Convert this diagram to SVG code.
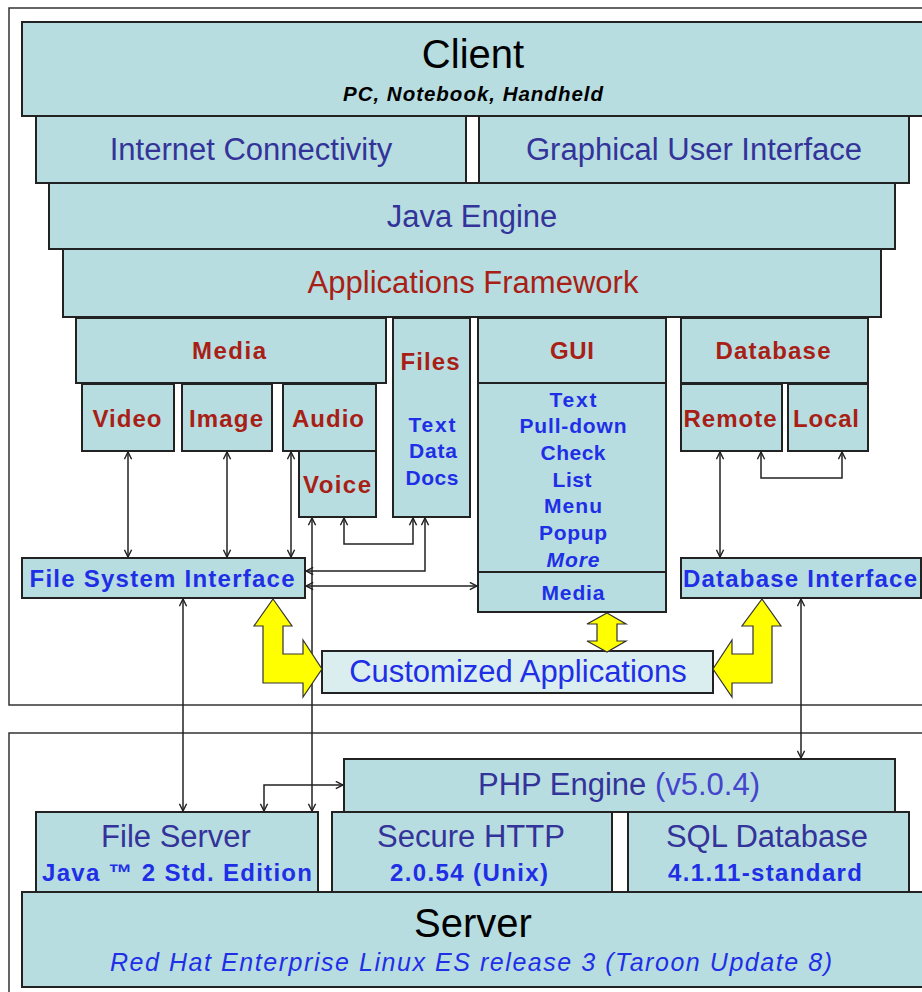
<svg xmlns="http://www.w3.org/2000/svg" width="922" height="992" viewBox="0 0 922 992">
<style>
.frame{fill:#fff;stroke:#333;stroke-width:1.5}
.box{fill:#B7DDE1;stroke:#222;stroke-width:2}
.lbox{fill:#DAEEF0;stroke:#222;stroke-width:2}
text{font-family:"Liberation Sans",Arial,sans-serif;text-anchor:middle}
.big{font-size:40px;fill:#000}
.reg{font-size:31px;fill:#333399}
.regred{font-size:31px;fill:#A82015}
.hd{font-size:24px;font-weight:bold;fill:#A82015}
.bb{font-size:24px;font-weight:bold;fill:#1F2FE6}
.li{font-size:21px;font-weight:bold;fill:#1F2FE6}
.conn{fill:none;stroke:#222;stroke-width:1.5}
.yel{fill:#FFFF00;stroke:#333;stroke-width:1.2;stroke-linejoin:miter}
</style>
<defs>
<marker id="ah" viewBox="0 0 10 10" refX="9" refY="5" markerWidth="9" markerHeight="9" markerUnits="userSpaceOnUse" orient="auto-start-reverse">
<path d="M1,1 L9,5 L1,9" fill="none" stroke="#222" stroke-width="1.6"/>
</marker>
</defs>
<rect width="922" height="992" fill="#fff"/>
<rect class="frame" x="9" y="8" width="930" height="697"/>
<rect class="frame" x="9" y="733" width="930" height="270"/>

<g id="client"><rect class="box" x="22" y="22" width="910" height="94"/>
<text class="big" x="473" y="68">Client</text>
<text x="473" y="101" font-size="20.5" font-weight="bold" font-style="italic" fill="#000" textLength="260">PC, Notebook, Handheld</text></g>
<g id="internet"><rect class="box" x="36" y="116" width="430" height="67"/><text class="reg" x="251" y="160">Internet Connectivity</text></g>
<g id="gui-top"><rect class="box" x="479" y="116" width="430" height="67"/><text class="reg" x="694" y="160">Graphical User Interface</text></g>
<g id="java"><rect class="box" x="49" y="183" width="846" height="66"/><text class="reg" x="472" y="227">Java Engine</text></g>
<g id="apps"><rect class="box" x="63" y="249" width="818" height="68"/><text class="regred" x="473" y="293">Applications Framework</text></g>

<g id="media"><rect class="box" x="76" y="318" width="310" height="65"/><text class="hd" x="229" y="359" textLength="74">Media</text></g>
<g id="video"><rect class="box" x="82" y="384" width="92" height="67"/><text class="hd" x="127" y="427" textLength="69">Video</text></g>
<g id="image"><rect class="box" x="182" y="384" width="90" height="67"/><text class="hd" x="226" y="427" textLength="74">Image</text></g>
<g id="audio"><rect class="box" x="283" y="384" width="93" height="67"/><text class="hd" x="328" y="427" textLength="72">Audio</text></g>
<g id="voice"><rect class="box" x="299" y="451" width="77" height="66"/><text class="hd" x="337" y="493" textLength="68">Voice</text></g>
<g id="files"><rect class="box" x="393" y="318" width="77" height="199"/>
<text class="hd" x="430" y="370" textLength="59">Files</text>
<text class="li" x="432" y="432" textLength="47">Text</text>
<text class="li" x="433" y="458" textLength="48">Data</text>
<text class="li" x="432" y="485" textLength="53">Docs</text></g>
<g id="gui"><rect class="box" x="478" y="318" width="188" height="65"/><text class="hd" x="572" y="359" textLength="44">GUI</text>
<rect class="box" x="478" y="383" width="188" height="189"/>
<text class="li" x="573" y="407" textLength="47">Text</text>
<text class="li" x="573" y="433" textLength="107">Pull-down</text>
<text class="li" x="573" y="460" textLength="65">Check</text>
<text class="li" x="572" y="487" textLength="39">List</text>
<text class="li" x="573" y="513" textLength="58">Menu</text>
<text class="li" x="573" y="540" textLength="68">Popup</text>
<text class="li" x="573" y="567" textLength="53" font-style="italic">More</text></g>
<g id="gui-media"><rect class="box" x="478" y="572" width="188" height="40"/><text class="li" x="573" y="600" textLength="63">Media</text></g>
<g id="database"><rect class="box" x="681" y="318" width="187" height="65"/><text class="hd" x="773" y="359" textLength="115">Database</text></g>
<g id="remote"><rect class="box" x="681" y="384" width="101" height="67"/><text class="hd" x="730" y="427" textLength="93">Remote</text></g>
<g id="local"><rect class="box" x="788" y="384" width="80" height="67"/><text class="hd" x="826" y="427" textLength="66">Local</text></g>
<g id="fsi"><rect class="box" x="22" y="558" width="283" height="40"/><text class="bb" x="162" y="587" textLength="265">File System Interface</text></g>
<g id="dbi"><rect class="box" x="681" y="558" width="240" height="40"/><text class="bb" x="800" y="587" textLength="234">Database Interface</text></g>
<g id="custom"><rect class="lbox" x="322" y="651" width="391" height="42"/><text x="518" y="682" font-size="31" fill="#1F2FE6">Customized Applications</text></g>

<g id="php"><rect class="box" x="344" y="759" width="551" height="53"/><text class="reg" x="619" y="795">PHP Engine <tspan fill="#4444CC">(v5.0.4)</tspan></text></g>
<g id="fileserver"><rect class="box" x="36" y="812" width="282" height="80"/><text class="reg" x="176" y="847" font-size="30">File Server</text><text class="bb" x="177" y="881" textLength="270">Java ™ 2 Std. Edition</text></g>
<g id="http"><rect class="box" x="332" y="812" width="280" height="80"/><text class="reg" x="471" y="847" font-size="30">Secure HTTP</text><text class="bb" x="469" y="881" textLength="158">2.0.54 (Unix)</text></g>
<g id="sql"><rect class="box" x="628" y="812" width="281" height="80"/><text class="reg" x="767" y="847" font-size="30">SQL Database</text><text class="bb" x="765" y="881" textLength="194">4.1.11-standard</text></g>
<g id="server"><rect class="box" x="22" y="892" width="910" height="95"/><text class="big" x="473" y="937">Server</text>
<text x="471" y="971" font-size="25" font-style="italic" fill="#1F2FE6" textLength="722">Red Hat Enterprise Linux ES release 3 (Taroon Update 8)</text></g>

<g id="connectors">
<path class="conn" marker-start="url(#ah)" marker-end="url(#ah)" d="M128,452 V557"/>
<path class="conn" marker-start="url(#ah)" marker-end="url(#ah)" d="M227,452 V557"/>
<path class="conn" marker-start="url(#ah)" marker-end="url(#ah)" d="M291,452 V557"/>
<path class="conn" marker-start="url(#ah)" marker-end="url(#ah)" d="M312,518 V811"/>
<path class="conn" marker-start="url(#ah)" marker-end="url(#ah)" d="M344,518 V544 H413 V518"/>
<path class="conn" marker-start="url(#ah)" marker-end="url(#ah)" d="M425,518 V571 H306"/>
<path class="conn" marker-start="url(#ah)" marker-end="url(#ah)" d="M306,586 H477"/>
<path class="conn" marker-start="url(#ah)" marker-end="url(#ah)" d="M720,452 V557"/>
<path class="conn" marker-start="url(#ah)" marker-end="url(#ah)" d="M761,452 V478 H842 V452"/>
<path class="conn" marker-start="url(#ah)" marker-end="url(#ah)" d="M183,599 V811"/>
<path class="conn" marker-start="url(#ah)" marker-end="url(#ah)" d="M264,811 V785 H343"/>
<path class="conn" marker-start="url(#ah)" marker-end="url(#ah)" d="M801,599 V758"/>
<polygon class="yel" points="273,599 292,626 283,626 283,654 303,654 303,640 322,669 303,697 303,683 263,683 263,626 254,626"/>
<polygon class="yel" points="762,599 781,626 772,626 772,683 732,683 732,697 713,669 732,640 732,654 753,654 753,626 742,626"/>
<polygon class="yel" points="607,613 626,624 617,624 617,641 626,641 607,652 587,641 597,641 597,624 587,624"/>
</g>
</svg>
